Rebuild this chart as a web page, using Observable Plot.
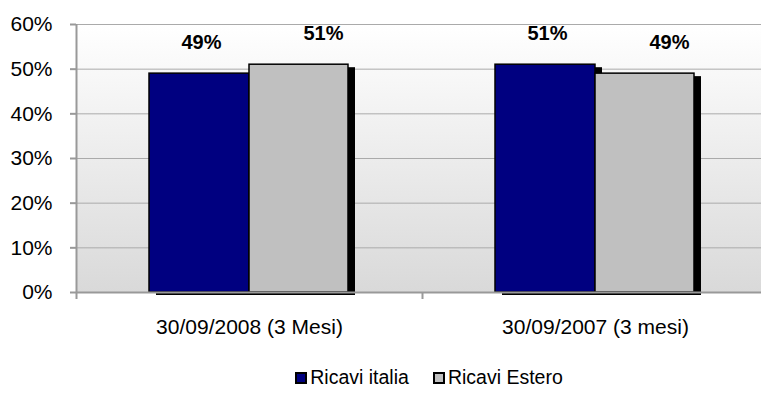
<!DOCTYPE html>
<html>
<head>
<meta charset="utf-8">
<script src="https://cdn.jsdelivr.net/npm/d3@7"></script>
<script src="https://cdn.jsdelivr.net/npm/@observablehq/plot@0.6"></script>
<style>
  html, body { margin: 0; padding: 0; background: white; overflow: hidden; }
  body { width: 761px; height: 407px; font-family: "Liberation Sans", Arial, sans-serif; }
  #chart svg { display: block; }
  #legend { display: flex; justify-content: center; padding-left: 97px; margin-top: 16px;
            font-family: "Liberation Sans", Arial, sans-serif;
            font-size: 19.5px; line-height: 23px; color: #000; }
  .item { display: flex; align-items: center; margin: 0 12px; }
  .sw { box-sizing: border-box; width: 12px; height: 12px; border: 2px solid #000; margin-right: 3px; }
</style>
</head>
<body>
<div id="chart"></div>
<div id="legend"></div>
<script>
const categories = ["30/09/2008 (3 Mesi)", "30/09/2007 (3 mesi)"];
const series = ["Ricavi italia", "Ricavi Estero"];
const italia = [0.49, 0.51];
const estero = [0.51, 0.49];
const yTicks = [0, 0.1, 0.2, 0.3, 0.4, 0.5, 0.6];
const colors = ["#000080", "#c0c0c0"];

const italiaData = categories.map((c, i) => ({cat: c, series: series[0], value: italia[i]}));
const esteroData = categories.map((c, i) => ({cat: c, series: series[1], value: estero[i]}));
const pct = d3.format(".0%");

const chart = Plot.plot({
  width: 761,
  height: 350,
  marginLeft: 76,
  marginRight: -7,
  marginTop: 24,
  marginBottom: 58,
  style: {fontFamily: "'Liberation Sans', Arial, sans-serif", fontSize: "21px", color: "#000", background: "transparent"},
  x: {domain: categories, padding: 0, label: null},
  y: {domain: [0, 0.6], label: null},
  color: {domain: series, range: colors},
  marks: [
    Plot.frame({fill: "url(#bg)", stroke: null}),
    Plot.gridY(yTicks, {stroke: "#aaaaaa", strokeOpacity: 1, strokeWidth: 1}),
    // shadows
    Plot.barY(italiaData, {x: "cat", y: "value", fill: "black", insetLeft: 73, insetRight: 173, dx: 7, dy: 3}),
    Plot.barY(esteroData, {x: "cat", y: "value", fill: "black", insetLeft: 173, insetRight: 74, dx: 7, dy: 3}),
    // bars
    Plot.barY(italiaData, {x: "cat", y: "value", fill: "series", stroke: "black", strokeWidth: 1.5, insetLeft: 73, insetRight: 173}),
    Plot.barY(esteroData, {x: "cat", y: "value", fill: "series", stroke: "black", strokeWidth: 1.5, insetLeft: 173, insetRight: 74}),
    Plot.ruleY([0], {stroke: "#999999", strokeWidth: 2}),
    Plot.ruleX([categories[0]], {y1: 0, y2: 0.6, dx: -173, stroke: "#999999", strokeWidth: 2}),
    // labels
    Plot.text(italiaData, {x: "cat", y: "value", text: d => pct(d.value), dx: -48, dy: -31.5, fontWeight: "bold", fontSize: 20, fill: "#000"}),
    Plot.text(esteroData, {x: "cat", y: "value", text: d => pct(d.value), dx: 74, dy: -31.5, fontWeight: "bold", fontSize: 20, fill: "#000"}),
    Plot.axisY({ticks: yTicks, tickFormat: pct, tickSize: 6, tickPadding: 18, stroke: "#999999", strokeWidth: 2, label: null, fill: "#000", fontSize: 21}),
    Plot.axisX({tickSize: 7, tickFormat: () => "", dx: -173, stroke: "#999999", strokeWidth: 2, label: null}),
    Plot.axisX({tickSize: 0, tickPadding: 27, label: null, fill: "#000", fontSize: 21})
  ]
});

const defs = d3.select(chart).insert("defs", ":first-child");
const grad = defs.append("linearGradient").attr("id", "bg").attr("x1", 0).attr("y1", 0).attr("x2", 0).attr("y2", 1);
grad.append("stop").attr("offset", "0%").attr("stop-color", "#ffffff");
grad.append("stop").attr("offset", "100%").attr("stop-color", "#d9d9d9");

document.getElementById("chart").appendChild(chart);

const legend = document.getElementById("legend");
series.forEach((s, i) => {
  const item = document.createElement("div");
  item.className = "item";
  const sw = document.createElement("span");
  sw.className = "sw";
  sw.style.background = colors[i];
  const t = document.createElement("span");
  t.textContent = s;
  item.appendChild(sw);
  item.appendChild(t);
  legend.appendChild(item);
});
</script>
</body>
</html>
